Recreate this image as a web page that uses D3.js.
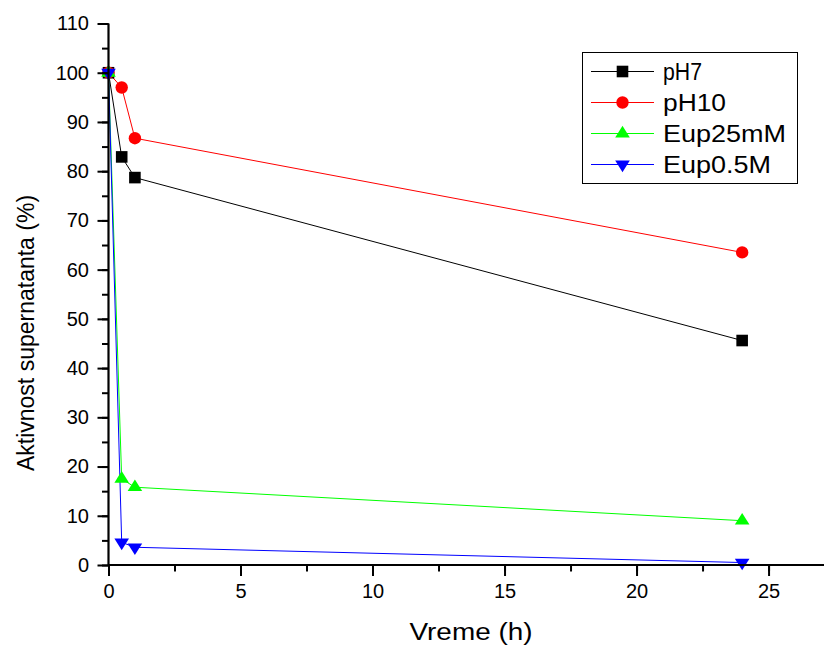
<!DOCTYPE html>
<html>
<head>
<meta charset="utf-8">
<script src="https://cdn.jsdelivr.net/npm/d3@7"></script>
<style>
  html, body { margin: 0; padding: 0; background: #fff; }
  svg { display: block; font-family: "Liberation Sans", Arial, sans-serif; }
</style>
</head>
<body>
<svg id="chart" width="824" height="646"></svg>
<script>
// Time points (h)
const times = [0, 0.5, 1, 24];

// Supernatant activity (%) for each condition
const pH7      = [100, 82.9, 78.7, 45.6];
const pH10     = [100, 97.0, 86.7, 63.5];
const eup25mM  = [100, 17.5, 15.8, 9.0];
const eup05M   = [100, 4.6, 3.6, 0.5];

const seriesNames  = ["pH7", "pH10", "Eup25mM", "Eup0.5M"];
const seriesColors = ["#000000", "#ff0000", "#00ff00", "#0000ff"];
const seriesShapes = ["square", "circle", "triangleUp", "triangleDown"];
// rendered widths of the legend entries
const legendTextWidths = [39, 63, 123, 108];

const xTicks = [0, 5, 10, 15, 20, 25];
const yTicks = [0, 10, 20, 30, 40, 50, 60, 70, 80, 90, 100, 110];

const series = [pH7, pH10, eup25mM, eup05M].map((vals, i) => ({
  name: seriesNames[i],
  color: seriesColors[i],
  shape: seriesShapes[i],
  textWidth: legendTextWidths[i],
  points: times.map((t, j) => ({ x: t, y: vals[j] }))
}));

const svg = d3.select("#chart");

const x = d3.scaleLinear().domain([0, 27.1]).range([108.5, 824]);
const y = d3.scaleLinear().domain([0, 110]).range([565, 23.5]);

// Marker path generators, centred on the data point
function markerPath(shape) {
  switch (shape) {
    case "square":
      return "M-5.8,-5.8H5.8V5.8H-5.8Z";
    case "circle":
      return d3.symbol(d3.symbolCircle, Math.PI * 6.2 * 6.2)();
    case "triangleUp":
      return "M0,-7.8L7.3,3.9L-7.3,3.9Z";
    case "triangleDown":
      return "M0,7.8L7.3,-3.9L-7.3,-3.9Z";
  }
}

const line = d3.line().x(d => x(d.x)).y(d => y(d.y));

// Data lines and markers
const plot = svg.append("g");
series.forEach(s => {
  plot.append("path")
    .attr("d", line(s.points))
    .attr("fill", "none")
    .attr("stroke", s.color)
    .attr("stroke-width", 1);
});
series.forEach(s => {
  plot.selectAll(null)
    .data(s.points)
    .enter()
    .append("path")
    .attr("transform", d => `translate(${x(d.x)},${y(d.y)})`)
    .attr("d", markerPath(s.shape))
    .attr("fill", s.color);
});

// Axes: minor ticks first, then major ticks with labels
const xAxisG = svg.append("g").attr("transform", `translate(0,${y(0)})`);
xAxisG.call(d3.axisBottom(x).tickValues(d3.range(0, 27.1, 2.5)).tickSize(6.5).tickFormat(""));
xAxisG.selectAll(".tick line").attr("stroke-width", 2);
const xMajor = svg.append("g").attr("transform", `translate(0,${y(0)})`)
  .call(d3.axisBottom(x).tickValues(xTicks).tickSize(11).tickPadding(8).tickFormat(d3.format("d")));
xMajor.select(".domain").remove();
xMajor.selectAll(".tick line").attr("stroke-width", 2);
xMajor.selectAll(".tick text").attr("font-size", 20).attr("font-family", "Liberation Sans, Arial, sans-serif").attr("fill", "#000");
xAxisG.select(".domain").attr("stroke-width", 2.2).attr("d", `M${x(0)},0H${x(27.1)}`);

const yAxisG = svg.append("g").attr("transform", `translate(${x(0)},0)`);
yAxisG.call(d3.axisLeft(y).tickValues(d3.range(0, 110.1, 5)).tickSize(6.5).tickFormat(""));
yAxisG.selectAll(".tick line").attr("stroke-width", 2);
const yMajor = svg.append("g").attr("transform", `translate(${x(0)},0)`)
  .call(d3.axisLeft(y).tickValues(yTicks).tickSize(11).tickPadding(8.5).tickFormat(d3.format("d")));
yMajor.select(".domain").remove();
yMajor.selectAll(".tick line").attr("stroke-width", 2);
yMajor.selectAll(".tick text").attr("font-size", 20).attr("font-family", "Liberation Sans, Arial, sans-serif").attr("fill", "#000");
yAxisG.select(".domain").attr("stroke-width", 2.2).attr("d", `M0,${y(0) + 1}V${y(110)}`);

// Axis titles
svg.append("text")
  .attr("x", 471).attr("y", 640)
  .attr("text-anchor", "middle")
  .attr("font-size", 23)
  .attr("textLength", 123)
  .attr("lengthAdjust", "spacingAndGlyphs")
  .text("Vreme (h)");

svg.append("text")
  .attr("transform", "translate(34,333) rotate(-90)")
  .attr("text-anchor", "middle")
  .attr("font-size", 23)
  .text("Aktivnost supernatanta (%)");

// Legend
const legend = svg.append("g");
legend.append("rect")
  .attr("x", 582.5).attr("y", 52.5)
  .attr("width", 215).attr("height", 131)
  .attr("fill", "#fff").attr("stroke", "#000").attr("stroke-width", 1);

const legendRowY = d3.scalePoint().domain(seriesNames).range([71.5, 164.5]);
series.forEach(s => {
  const ry = legendRowY(s.name);
  const row = legend.append("g");
  row.append("line")
    .attr("x1", 591).attr("x2", 654).attr("y1", ry).attr("y2", ry)
    .attr("stroke", s.color).attr("stroke-width", 1);
  row.append("path")
    .attr("transform", `translate(622.5,${ry})`)
    .attr("d", markerPath(s.shape))
    .attr("fill", s.color);
  row.append("text")
    .attr("x", 663).attr("y", ry + 8)
    .attr("font-size", 23.3)
    .attr("textLength", s.textWidth)
    .attr("lengthAdjust", "spacingAndGlyphs")
    .text(s.name);
});
</script>
</body>
</html>
